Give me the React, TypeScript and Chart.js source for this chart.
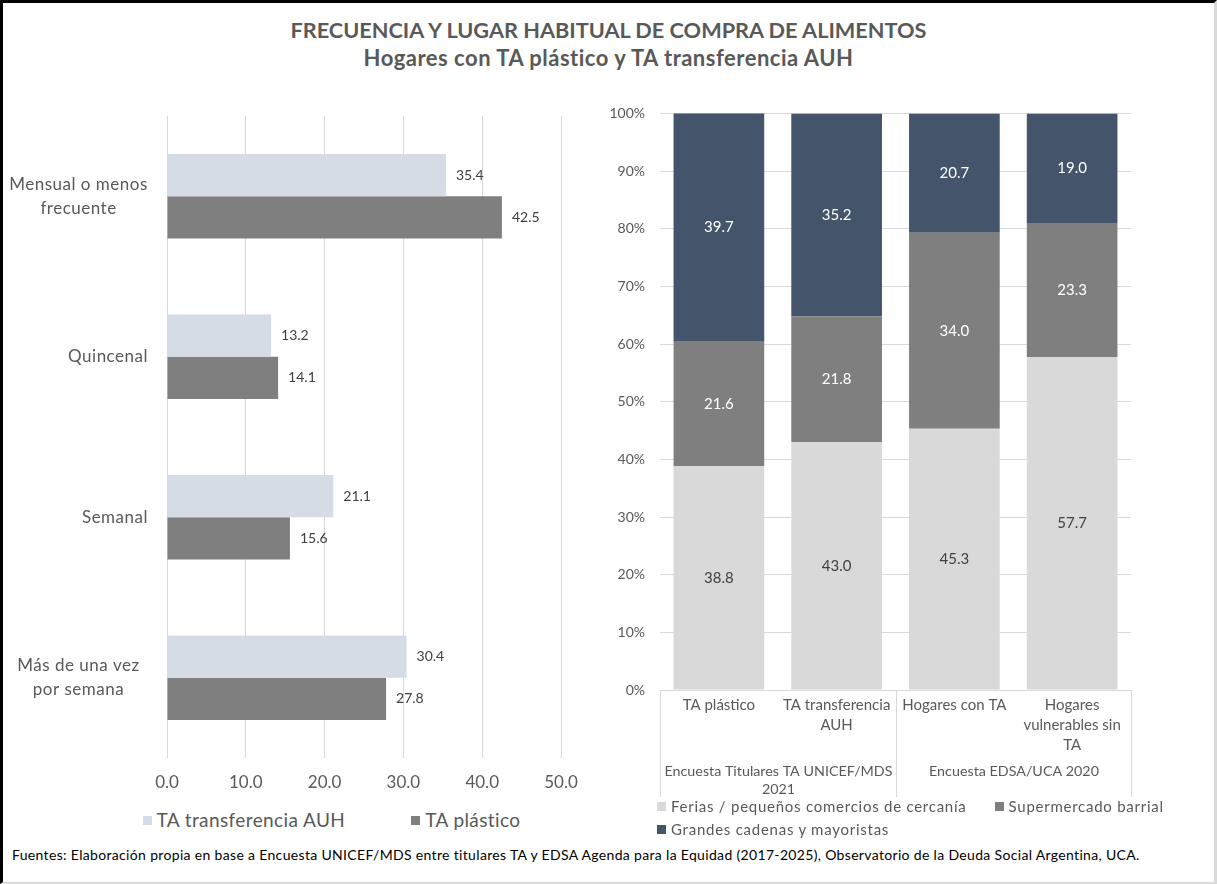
import React, { useEffect, useRef } from "react";
import { Chart, registerables } from "chart.js";

Chart.register(...registerables);

const FONT = "Lato, 'Open Sans', sans-serif";

// ---- Left chart data (frecuencia de compra) ----
const freqCategories: (string | string[])[] = [
  ["Mensual o menos", "frecuente"],
  "Quincenal",
  "Semanal",
  ["Más de una vez", "por semana"],
];
const freqSeriesNames = ["TA transferencia AUH", "TA plástico"];
const auhValues = [35.4, 13.2, 21.1, 30.4];
const plasticoValues = [42.5, 14.1, 15.6, 27.8];
const freqTicks = [0, 10, 20, 30, 40, 50];

// ---- Right chart data (lugar de compra) ----
const placeCategories: string[][] = [
  ["TA plástico"],
  ["TA transferencia", "AUH"],
  ["Hogares con TA"],
  ["Hogares", "vulnerables sin", "TA"],
];
const placeGroups: string[][] = [
  ["Encuesta Titulares TA UNICEF/MDS", "2021"],
  ["Encuesta EDSA/UCA 2020"],
];
const placeGroupSizes = [2, 2];
const placeSeriesNames = [
  "Ferias / pequeños comercios de cercanía",
  "Supermercado barrial",
  "Grandes cadenas y mayoristas",
];
const feriasValues = [38.8, 43.0, 45.3, 57.7];
const supermercadoValues = [21.6, 21.8, 34.0, 23.3];
const grandesValues = [39.7, 35.2, 20.7, 19.0];
const percentTicks = [0, 10, 20, 30, 40, 50, 60, 70, 80, 90, 100];

const TITLE_LINES = [
  "FRECUENCIA Y LUGAR HABITUAL DE COMPRA DE ALIMENTOS",
  "Hogares con TA plástico y TA transferencia AUH",
];
const FOOTNOTE =
  "Fuentes: Elaboración propia en base a Encuesta UNICEF/MDS entre titulares TA y EDSA Agenda para la Equidad (2017-2025), Observatorio de la Deuda Social Argentina, UCA.";

const freqColors = ["#D6DCE5", "#7F7F7F"];
const freqLabelColors = ["#404040", "#404040"];
const placeColors = ["#D9D9D9", "#7F7F7F", "#44546A"];
const placeLabelColors = ["#404040", "#FFFFFF", "#FFFFFF"];

const GRID = "#D9D9D9";
const AXIS_TEXT = "#595959";

// value labels plugin
const valueLabels = {
  id: "valueLabels",
  afterDatasetsDraw(chart: any, _args: any, opts: any) {
    const { ctx } = chart;
    ctx.save();
    ctx.font = `${opts.size || 13}px ${FONT}`;
    ctx.textBaseline = "middle";
    chart.data.datasets.forEach((ds: any, di: number) => {
      const meta = chart.getDatasetMeta(di);
      const colors = opts.colors || [];
      ctx.fillStyle = colors[di] || "#404040";
      meta.data.forEach((el: any, i: number) => {
        const v = ds.data[i] as number;
        const text = v.toFixed(1);
        if (opts.mode === "end") {
          ctx.textAlign = "left";
          ctx.fillText(text, el.x + (opts.offset || 10), el.y);
        } else {
          ctx.textAlign = "center";
          ctx.fillText(text, el.x, (el.y + el.base) / 2);
        }
      });
    });
    ctx.restore();
  },
};

// left chart category labels (right aligned, wrapped ones centred in block)
const freqAxisLabels = {
  id: "freqAxisLabels",
  afterDraw(chart: any) {
    const { ctx } = chart;
    const yScale = chart.scales.y;
    const right = chart.chartArea.left - 19;
    const blockLeft = 9;
    const wrapCenter = (blockLeft + right) / 2;
    const lh = 24;
    ctx.save();
    ctx.font = `17px ${FONT}`;
    (ctx as any).letterSpacing = "0.5px";
    ctx.fillStyle = AXIS_TEXT;
    ctx.textBaseline = "middle";
    (chart.data.labels as any[]).forEach((lab, i) => {
      const lines: string[] = Array.isArray(lab) ? lab : [lab];
      const cy = yScale.getPixelForTick(i);
      lines.forEach((line, j) => {
        const ly = cy + (j - (lines.length - 1) / 2) * lh;
        if (lines.length > 1) {
          ctx.textAlign = "center";
          ctx.fillText(line, wrapCenter, ly);
        } else {
          ctx.textAlign = "right";
          ctx.fillText(line, right, ly);
        }
      });
    });
    ctx.restore();
  },
};

// right chart: multi-level group box + group labels
const groupAxis = {
  id: "groupAxis",
  afterDraw(chart: any) {
    const { ctx, chartArea } = chart;
    const xs = chart.scales.x;
    const n = chart.data.labels.length;
    const half = (xs.getPixelForTick(1) - xs.getPixelForTick(0)) / 2;
    const top = chartArea.bottom;
    const bottom = chartArea.bottom + 107;
    ctx.save();
    ctx.strokeStyle = GRID;
    ctx.lineWidth = 1;
    const bounds: number[] = [Math.round(xs.getPixelForTick(0) - half) + 0.5];
    let idx = 0;
    placeGroupSizes.forEach((sz) => {
      idx += sz;
      bounds.push(Math.round(xs.getPixelForTick(Math.min(idx, n) - 1) + half) + 0.5);
    });
    bounds.forEach((bx) => {
      ctx.beginPath();
      ctx.moveTo(bx, top);
      ctx.lineTo(bx, bottom);
      ctx.stroke();
    });
    ctx.font = `14.3px ${FONT}`;
    ctx.fillStyle = AXIS_TEXT;
    ctx.textAlign = "center";
    ctx.textBaseline = "middle";
    placeGroups.forEach((lines, g) => {
      const cx = (bounds[g] + bounds[g + 1]) / 2;
      lines.forEach((line, j) => {
        ctx.fillText(line, cx, top + 81 + j * 18);
      });
    });
    ctx.restore();
  },
};

function LegendItem({
  color,
  text,
  size,
  gap,
  spacing,
}: {
  color: string;
  text: string;
  size: number;
  gap: number;
  spacing: number;
}) {
  return (
    <div style={{ display: "flex", alignItems: "center", marginRight: gap, whiteSpace: "nowrap" }}>
      <span style={{ display: "inline-block", width: 9, height: 9, background: color, marginRight: 5 }} />
      <span style={{ fontSize: size, letterSpacing: spacing }}>{text}</span>
    </div>
  );
}

export default function App() {
  const leftRef = useRef<HTMLCanvasElement | null>(null);
  const rightRef = useRef<HTMLCanvasElement | null>(null);

  useEffect(() => {
    const left = new Chart(leftRef.current as HTMLCanvasElement, {
      type: "bar",
      data: {
        labels: freqCategories as any,
        datasets: [
          {
            label: freqSeriesNames[0],
            data: auhValues,
            backgroundColor: freqColors[0],
            categoryPercentage: 0.525,
            barPercentage: 1,
          },
          {
            label: freqSeriesNames[1],
            data: plasticoValues,
            backgroundColor: freqColors[1],
            categoryPercentage: 0.525,
            barPercentage: 1,
          },
        ],
      },
      options: {
        indexAxis: "y",
        animation: false,
        responsive: false,
        events: [],
        layout: { padding: { top: 26, right: 39, left: 0, bottom: 0 } },
        plugins: {
          legend: { display: false },
          tooltip: { enabled: false },
          valueLabels: { mode: "end", offset: 10, size: 14, colors: freqLabelColors },
        } as any,
        scales: {
          x: {
            min: 0,
            max: 50,
            afterBuildTicks: (s: any) => {
              s.ticks = freqTicks.map((v) => ({ value: v }));
            },
            ticks: {
              callback: (v: any) => Number(v).toFixed(1),
              color: AXIS_TEXT,
              font: { family: FONT, size: 17 },
              padding: 14,
            },
            grid: { color: GRID, drawTicks: false },
            border: { display: false },
            afterFit: (s: any) => {
              s.height = 40;
            },
          },
          y: {
            ticks: { display: false },
            grid: { display: false },
            border: { display: false },
            afterFit: (s: any) => {
              s.width = 167;
            },
          },
        },
      },
      plugins: [valueLabels, freqAxisLabels],
    });

    const right = new Chart(rightRef.current as HTMLCanvasElement, {
      type: "bar",
      data: {
        labels: placeCategories as any,
        datasets: [feriasValues, supermercadoValues, grandesValues].map((vals, i) => ({
          label: placeSeriesNames[i],
          data: vals,
          backgroundColor: placeColors[i],
          categoryPercentage: 1,
          barPercentage: 0.77,
        })),
      },
      options: {
        animation: false,
        responsive: false,
        events: [],
        layout: { padding: { top: 21, right: 86, left: 0, bottom: 0 } },
        plugins: {
          legend: { display: false },
          tooltip: { enabled: false },
          valueLabels: { mode: "center", size: 15, colors: placeLabelColors },
        } as any,
        scales: {
          x: {
            stacked: true,
            grid: { display: false },
            border: { display: false },
            ticks: {
              color: AXIS_TEXT,
              font: { family: FONT, size: 15, lineHeight: 1.333 },
              padding: -3,
              maxRotation: 0,
              autoSkip: false,
            },
            afterFit: (s: any) => {
              s.height = 110;
            },
          },
          y: {
            stacked: true,
            min: 0,
            max: 100,
            afterBuildTicks: (s: any) => {
              s.ticks = percentTicks.map((v) => ({ value: v }));
            },
            ticks: {
              callback: (v: any) => `${v}%`,
              color: AXIS_TEXT,
              font: { family: FONT, size: 14 },
              padding: 15,
            },
            grid: { color: GRID, drawTicks: false },
            border: { display: false },
            afterFit: (s: any) => {
              s.width = 64;
            },
          },
        },
      },
      plugins: [valueLabels, groupAxis],
    });

    return () => {
      left.destroy();
      right.destroy();
    };
  }, []);

  return (
    <div
      style={{
        position: "absolute",
        left: 0,
        top: 0,
        width: 1217,
        height: 884,
        background: "#ffffff",
        overflow: "hidden",
        fontFamily: FONT,
        color: AXIS_TEXT,
      }}
    >
      <div
        style={{
          position: "absolute",
          left: 0,
          top: 16,
          width: 1217,
          textAlign: "center",
          fontWeight: 700,
          lineHeight: "28px",
          color: AXIS_TEXT,
        }}
      >
        <div style={{ fontSize: 21.7 }}>{TITLE_LINES[0]}</div>
        <div style={{ fontSize: 22, letterSpacing: 0.5 }}>{TITLE_LINES[1]}</div>
      </div>

      <canvas ref={leftRef} width={600} height={708} style={{ position: "absolute", left: 0, top: 90 }} />
      <canvas ref={rightRef} width={621} height={710} style={{ position: "absolute", left: 596, top: 90 }} />

      <div
        style={{
          position: "absolute",
          left: 0,
          top: 807,
          width: 663,
          display: "flex",
          justifyContent: "center",
          color: AXIS_TEXT,
          lineHeight: "26px",
        }}
      >
        {freqSeriesNames.map((name, i) => (
          <LegendItem
            key={name}
            color={freqColors[i]}
            text={name}
            size={19}
            spacing={0.4}
            gap={i === 0 ? 66 : 0}
          />
        ))}
      </div>

      <div
        style={{
          position: "absolute",
          left: 657,
          top: 795,
          width: 555,
          display: "flex",
          flexWrap: "wrap",
          color: AXIS_TEXT,
          lineHeight: "23px",
        }}
      >
        {placeSeriesNames.map((name, i) => (
          <LegendItem key={name} color={placeColors[i]} text={name} size={15} spacing={0.75} gap={28} />
        ))}
      </div>

      <div
        style={{
          position: "absolute",
          left: 12,
          top: 846,
          fontSize: 14,
          letterSpacing: 0.33,
          color: "#000000",
          whiteSpace: "nowrap",
        }}
      >
        {FOOTNOTE}
      </div>

      <div
        style={{
          position: "absolute",
          left: 0,
          top: 0,
          width: 1217,
          height: 884,
          boxSizing: "border-box",
          borderTop: "3px solid #000000",
          borderLeft: "3px solid #000000",
          borderRight: "3px solid #DADADA",
          borderBottom: "2px solid #DADADA",
          pointerEvents: "none",
        }}
      />
    </div>
  );
}
